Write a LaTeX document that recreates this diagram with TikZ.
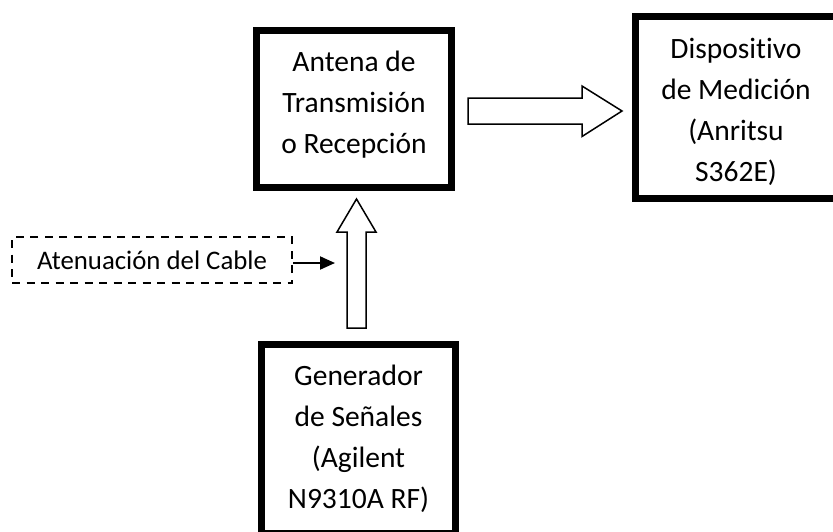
\documentclass[tikz,border=0pt]{standalone}
\usepackage{fontspec}
\setmainfont{Carlito}[Ligatures=CommonOff]
\usepackage{tikz}
\usetikzlibrary{arrows.meta, positioning, calc}

\begin{document}
\begin{tikzpicture}[
  x=1pt, y=-1pt,
  box/.style={draw, line width=7pt, inner sep=0pt},
  boxtext/.style={align=center, font=\fontsize{29.5}{41}\selectfont},
  dashbox/.style={draw, line width=2pt, dash pattern=on 8pt off 6.5pt, align=center,
              minimum width=280pt, minimum height=46pt, font=\fontsize{26.8}{32}\selectfont},
  fatarr/.style={draw, line width=1.5pt, fill=white, line join=miter},
  arr/.style={-{Triangle[length=15pt, width=13pt]}, line width=2pt},
]
  \useasboundingbox (0,0) rectangle (833,531);
  \clip (0,0) rectangle (833,531);

  % Nodes
  \node[box, minimum width=195pt, minimum height=157pt] (antena) at (354,109)
    [label={[boxtext, yshift=4pt]center:{Antena de\\Transmisión\\o Recepción}}] {};
  \node[box, minimum width=202pt, minimum height=182pt] (medidor) at (736,107.5)
    [label={[boxtext, yshift=-4pt]center:{Dispositivo\\de Medición\\(Anritsu\\S362E)}}] {};
  \node[box, minimum width=194pt, minimum height=189pt] (generador) at (358.5,438.5)
    [label={[boxtext]center:{Generador\\de Señales\\(Agilent\\N9310A RF)}}] {};
  \node[dashbox] (atenuacion) at (152,260) {Atenuación del Cable};

  % Block arrows
  \coordinate (hs) at (468,111);
  \coordinate (he) at (622,111);
  \draw[fatarr] (hs) ++(0,-13) -- ++(114,0) -- ++(0,-12) -- (he) -- ++(-40,25.5)
    -- ++(0,-12.5) -- ++(-114,0) -- cycle;
  \coordinate (vs) at (356.5,328);
  \coordinate (ve) at (356.5,199);
  \draw[fatarr] (vs) ++(-9.5,0) -- ++(0,-96) -- ++(-10,0) -- (ve) -- ++(19.5,33)
    -- ++(-10,0) -- ++(0,96) -- cycle;

  % Arrow
  \coordinate (cable) at (335,263);
  \draw[arr] (atenuacion.east |- cable) -- (cable);

\end{tikzpicture}
\end{document}
